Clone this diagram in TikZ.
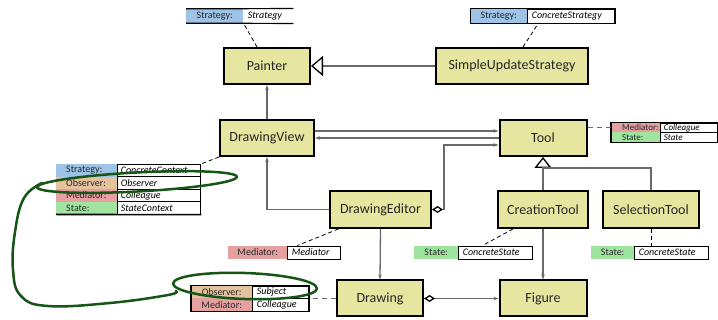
\documentclass[tikz,border=0pt]{standalone}
\usepackage{fontspec}
\setmainfont{Carlito}
\usetikzlibrary{arrows.meta}
\definecolor{boxc}{RGB}{230,230,160}
\definecolor{stratc}{RGB}{157,195,230}
\definecolor{obsc}{RGB}{228,194,158}
\definecolor{medc}{RGB}{230,160,160}
\definecolor{statec}{RGB}{160,228,160}
\definecolor{linec}{RGB}{105,105,105}
\definecolor{penc}{RGB}{22,85,22}
\newcommand\tagf{\fontsize{10}{11}\selectfont}
\newcommand\tagsf{\fontsize{9}{10}\selectfont}
\newcommand\tagL[3]{\makebox[#1pt][l]{\hspace{#2pt}#3}}
\newcommand\tagC[2]{\makebox[#1pt]{#2}}
\begin{document}
\begin{tikzpicture}[x=1pt,y=-1pt,
 cls/.style={draw=black, line width=2pt, fill=boxc, inner sep=0pt, text=black!85, font=\fontsize{14}{16}\selectfont},
 lab/.style={inner sep=0pt, anchor=west, text=black!85},
 val/.style={draw=black, line width=0.9pt, fill=white, inner sep=0pt, anchor=west},
 conn/.style={draw=linec, line width=1.3pt},
 arr/.style={-{Stealth[length=5pt,width=3.5pt]}},
 tagline/.style={draw=black, line width=0.8pt, dash pattern=on 4pt off 3pt},
 gtag/.style={draw=linec, line width=1.3pt, dash pattern=on 5pt off 4pt},
 pen/.style={draw=penc, line width=2.5pt, line cap=round, line join=round}
]
\useasboundingbox (0,0) rectangle (718,320);

% classes
\node[cls, minimum width=86pt, minimum height=36pt] (painter) at (267,66) {Painter};
\node[cls, minimum width=152pt, minimum height=36pt] (sus) at (512,66) {SimpleUpdateStrategy};
\node[cls, minimum width=94pt, minimum height=36pt] (dview) at (267,138) {DrawingView};
\node[cls, minimum width=87pt, minimum height=36pt] (tool) at (543,138) {Tool};
\node[cls, minimum width=101pt, minimum height=37pt] (deditor) at (380.5,209.5) {DrawingEditor};
\node[cls, minimum width=90pt, minimum height=37pt] (ctool) at (543,209.5) {CreationTool};
\node[cls, minimum width=96pt, minimum height=37pt] (stool) at (651,209.5) {SelectionTool};
\node[cls, minimum width=86pt, minimum height=36pt] (drawing) at (380,298.5) {Drawing};
\node[cls, minimum width=87pt, minimum height=36pt] (figure) at (543,298.5) {Figure};

% tag T1
\node[lab, fill=stratc, minimum height=14pt, font=\tagf] (t1l) at (186,16) {\tagC{57}{Strategy:}};
\node[val, draw=none, minimum height=14pt, font=\tagf\itshape] (t1v) at (t1l.east) {\tagL{49}{4}{Strategy}};
\draw[line width=1.2pt] (t1l.north west) -- (t1v.north east) (t1l.south west) -- (t1v.south east);
% tag T2
\node[lab, fill=stratc, minimum height=14pt, font=\tagf] (t2l) at (470,16) {\tagC{57}{Strategy:}};
\node[val, minimum height=14pt, font=\tagf\itshape] (t2v) at (t2l.east) {\tagL{87}{4}{ConcreteStrategy}};
\draw[line width=1pt] (t2l.north west) rectangle (t2v.south east);
% tag T3 (Tool)
\node[lab, fill=medc, minimum height=9.5pt, font=\tagsf] (t3a) at (611,127.75) {\tagL{49}{11}{Mediator:}};
\node[val, minimum height=9.5pt, font=\tagsf\itshape] (t3av) at (t3a.east) {\tagL{57}{3}{Colleague}};
\node[lab, fill=statec, minimum height=9.5pt, font=\tagsf] (t3b) at (611,137.25) {\tagL{49}{11}{State:}};
\node[val, minimum height=9.5pt, font=\tagsf\itshape] (t3bv) at (t3b.east) {\tagL{57}{3}{State}};
\draw[line width=1.2pt] (t3a.north west) rectangle (t3bv.south east);
% tag T4 (DrawingView)
\node[lab, fill=stratc, minimum height=12.5pt, font=\tagf] (t4a) at (56,170.5) {\tagL{61}{10}{Strategy:}};
\node[val, minimum height=12.5pt, font=\tagf\itshape] (t4av) at (t4a.east) {\tagL{83}{3}{ConcreteContext}};
\node[lab, fill=obsc, minimum height=12.5pt, font=\tagf] (t4b) at (56,183) {\tagL{61}{10}{Observer:}};
\node[val, minimum height=12.5pt, font=\tagf\itshape] (t4bv) at (t4b.east) {\tagL{83}{3}{Observer}};
\node[lab, fill=medc, minimum height=12.5pt, font=\tagf] (t4c) at (56,195.5) {\tagL{61}{10}{Mediator:}};
\node[val, minimum height=12.5pt, font=\tagf\itshape] (t4cv) at (t4c.east) {\tagL{83}{3}{Colleague}};
\node[lab, fill=statec, minimum height=12.5pt, font=\tagf] (t4d) at (56,208) {\tagL{61}{10}{State:}};
\node[val, minimum height=12.5pt, font=\tagf\itshape] (t4dv) at (t4d.east) {\tagL{83}{3}{StateContext}};
\draw[line width=1.6pt] (t4d.south west) -- (t4dv.south east);
% tag T5 (DrawingEditor)
\node[lab, fill=medc, minimum height=13pt, font=\tagf] (t5l) at (228,252.5) {\tagC{59}{Mediator:}};
\node[val, minimum height=13pt, font=\tagf\itshape] (t5v) at (t5l.east) {\tagL{53}{4}{Mediator}};
% tag T6 (CreationTool)
\node[lab, fill=statec, minimum height=13pt, font=\tagf] (t6l) at (414,252.5) {\tagC{44}{State:}};
\node[val, minimum height=13pt, font=\tagf\itshape] (t6v) at (t6l.east) {\tagL{74}{4}{ConcreteState}};
% tag T7 (SelectionTool)
\node[lab, fill=statec, minimum height=13pt, font=\tagf] (t7l) at (591,252.5) {\tagC{43}{State:}};
\node[val, minimum height=13pt, font=\tagf\itshape] (t7v) at (t7l.east) {\tagL{74}{4}{ConcreteState}};
% tag T8 (Drawing)
\node[lab, fill=obsc, minimum height=12.5pt, font=\tagf] (t8a) at (191,292.25) {\tagC{61}{Observer:}};
\node[val, minimum height=12.5pt, font=\tagf\itshape] (t8av) at (t8a.east) {\tagL{56}{4}{Subject}};
\node[lab, fill=medc, minimum height=12.5pt, font=\tagf] (t8b) at (191,304.75) {\tagC{61}{Mediator:}};
\node[val, minimum height=12.5pt, font=\tagf\itshape] (t8bv) at (t8b.east) {\tagL{56}{4}{Colleague}};
\draw[line width=1.2pt] (t8a.north west) rectangle (t8bv.south east);

% connectors
\draw[conn, -{Triangle[open, length=12pt, width=20pt, color=black]}] (sus.west) -- (painter.east);
\draw[conn, arr] (dview.north) -- (painter.south);
\draw[conn, arr] ([yshift=7pt]dview.east) -- ([yshift=7pt]tool.west);
\draw[conn, arr] (tool.west) -- (dview.east);
\draw[conn, {Diamond[open, length=11pt, width=7pt, color=black]}-{Stealth[length=5pt,width=3.5pt]}] (deditor.east) -- ++(12,0) |- ([yshift=-7pt]tool.west);
\draw[conn, arr] (deditor.west) -| (dview.south);
\draw[conn, arr] (deditor.south) -- (drawing.north);
\draw[conn, arr] (ctool.south) -- (figure.north);
\draw[conn, {Diamond[open, length=11pt, width=7pt, color=black]}-{Stealth[length=5pt,width=3.5pt]}] (drawing.east) -- (figure.west);
\coordinate (jn) at (543,168);
\draw[conn, -{Triangle[open, length=11pt, width=17pt, color=black]}] (jn) -- (tool.south);
\draw[conn] (ctool.north) -- (jn) -| (stool.north);

% tag links
\draw[tagline] ([xshift=-10pt]painter.north) -- (t1l.south east);
\draw[tagline] ([xshift=11pt]sus.north) -- ([xshift=11pt]t2l.south east);
\draw[gtag] (tool.east |- t3a.west) -- (t3a.west);
\draw[tagline] (dview.south west) -- (t4av.north east);
\draw[tagline] ([xshift=-42pt]deditor.south) -- ([xshift=10pt]t5v.north west);
\draw[tagline] ([xshift=-30pt]ctool.south) -- ([xshift=24pt]t6v.north west);
\draw[tagline] (stool.south) -- (stool.south |- t7v.north);
\draw[gtag] (drawing.west) -- (drawing.west -| t8av.east);

% hand-drawn pen marks
\draw[pen, rotate around={3:(137,182)}] (137,182) ellipse [x radius=100pt, y radius=9.5pt];
\draw[pen] plot[smooth, tension=0.7] coordinates {(42,183) (24,198) (15,232) (13,270) (21,296) (48,306) (110,303) (168,295) (176,291)};
\draw[pen, rotate around={-2:(245,286)}] (245,286) ellipse [x radius=72pt, y radius=13pt];
\end{tikzpicture}
\end{document}
